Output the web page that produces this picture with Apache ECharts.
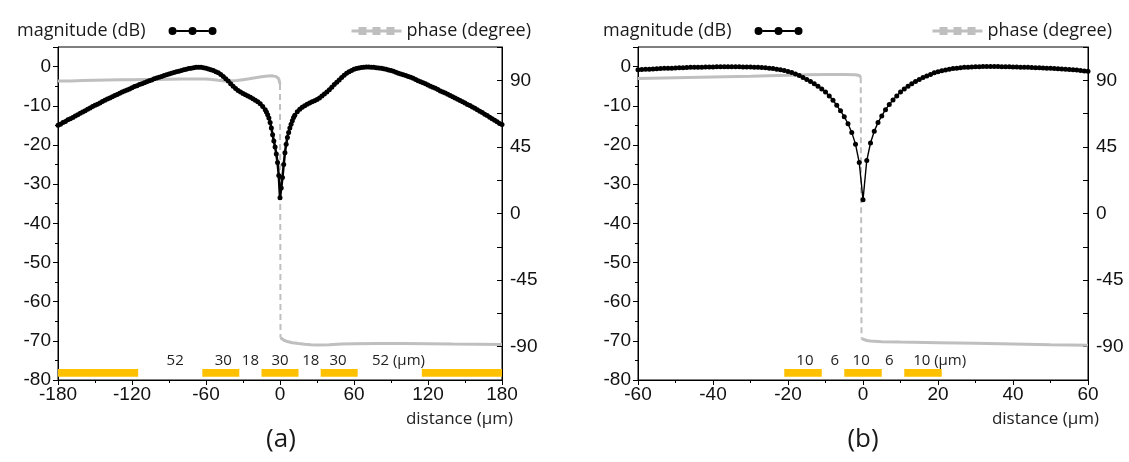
<!DOCTYPE html>
<html>
<head>
<meta charset="utf-8">
<script src="https://cdn.jsdelivr.net/npm/echarts@6.0.0/dist/echarts.min.js"></script>
<style>
html,body{margin:0;padding:0;background:#fff;}
#chart{width:1129px;height:462px;}
</style>
</head>
<body>
<div id="chart"></div>
<script>
// ---------- (a) 30 µm electrodes, 18 µm gaps ----------
const distanceA = [
  -180,-178,-176,-174,-172,-170,-168,-166,-164,-162,-160,-158,-156,-154,-152,-150,-148,-146,-144,-142,
  -140,-138,-136,-134,-132,-130,-128,-126,-124,-122,-120,-118,-116,-114,-112,-110,-108,-106,-104,-102,
  -100,-98,-96,-94,-92,-90,-88,-86,-84,-82,-80,-78,-76,-74,-72,-70,-68,-66,-64,-62,
  -60,-58,-56,-54,-52,-50,-48,-46,-44,-42,-40,-38,-36,-34,-32,-30,-28,-26,-24,-22,
  -20,-18,-16,-14,
  -12,-11,-10,-9,-8,-7,-6,-5,-4,-3,-2,-1,0,1,2,3,4,5,6,7,8,9,10,11,12,
  14,16,18,20,22,24,26,28,30,32,34,36,38,40,42,44,46,48,50,52,
  54,56,58,60,62,64,66,68,70,72,74,76,78,80,82,84,86,88,90,92,
  94,96,98,100,102,104,106,108,110,112,114,116,118,120,122,124,126,128,130,132,
  134,136,138,140,142,144,146,148,150,152,154,156,158,160,162,164,166,168,170,172,
  174,176,178,180
];
const magnitudeA = [
  -15.0,-14.7,-14.3,-14.0,-13.6,-13.3,-13.0,-12.6,-12.3,-11.9,-11.6,-11.3,-10.9,-10.6,-10.2,-9.9,-9.6,-9.3,-8.9,-8.6,
  -8.3,-8.0,-7.7,-7.4,-7.1,-6.8,-6.5,-6.2,-6.0,-5.7,-5.4,-5.1,-4.9,-4.6,-4.4,-4.1,-3.9,-3.6,-3.4,-3.1,
  -2.9,-2.7,-2.5,-2.3,-2.1,-1.9,-1.7,-1.5,-1.3,-1.2,-1.0,-0.8,-0.7,-0.5,-0.4,-0.3,-0.2,-0.2,-0.2,-0.3,
  -0.4,-0.6,-0.8,-1.0,-1.3,-1.6,-2.0,-2.5,-3.1,-3.7,-4.4,-5.0,-5.6,-6.1,-6.5,-6.9,-7.2,-7.5,-7.8,-8.2,
  -8.6,-9.0,-9.5,-10.2,
  -11.0,-11.6,-12.3,-13.1,-14.3,-15.7,-17.4,-19.0,-20.5,-22.3,-24.5,-27.8,-33.5,-31.0,-28.3,-25.0,-22.0,-19.8,-18.1,-16.8,-15.7,-14.7,-13.8,-13.0,-12.4,
  -11.5,-10.9,-10.4,-10.0,-9.6,-9.3,-9.0,-8.7,-8.4,-8.0,-7.5,-7.0,-6.5,-5.9,-5.3,-4.6,-4.0,-3.4,-2.8,-2.2,
  -1.7,-1.3,-1.0,-0.7,-0.5,-0.35,-0.25,-0.2,-0.1,-0.1,-0.15,-0.2,-0.3,-0.35,-0.45,-0.55,-0.7,-0.85,-1.0,-1.2,
  -1.45,-1.7,-1.9,-2.1,-2.3,-2.5,-2.75,-3.0,-3.3,-3.6,-3.85,-4.15,-4.4,-4.7,-5.0,-5.25,-5.55,-5.85,-6.2,-6.5,
  -6.75,-7.05,-7.35,-7.7,-8.0,-8.35,-8.65,-9.0,-9.3,-9.65,-9.95,-10.3,-10.65,-11.0,-11.4,-11.75,-12.15,-12.5,-12.9,-13.3,
  -13.7,-14.1,-14.5,-14.8
];
const phaseDistanceLeftA = [-180,-170,-160,-150,-140,-130,-120,-110,-100,-90,-80,-70,-60,-55,-50,-45,-40,-35,-30,-25,-20,-15,-10,-6,-3,-1,0];
const phaseLeftA = [89.5,89.6,89.8,90.0,90.2,90.3,90.4,90.5,90.6,90.7,90.8,90.9,90.9,90.6,90.0,89.6,89.5,89.8,90.4,91.0,91.7,92.4,92.9,93.0,92.5,91.0,87.5];
const phaseDistanceRightA = [0.4,1,3,6,10,15,20,25,30,40,50,60,80,100,120,140,160,180];
const phaseRightA = [-84.0,-84.6,-85.5,-86.5,-87.3,-87.9,-88.4,-88.7,-88.8,-88.6,-88.2,-88.0,-87.9,-87.9,-88.0,-88.2,-88.3,-88.5];
const electrodesA = [[-180,-115],[-63,-33],[-15,15],[33,63],[115,180]];
const gapLabelsA = ['52','30','18','30','18','30','52 (μm)'];
const gapLabelPosA = [-85,-46,-24,0,25,47,81];

// ---------- (b) 10 µm electrodes, 6 µm gaps ----------
const distanceB = [
  -60,-59,-58,-57,-56,-55,-54,-53,-52,-51,-50,-49,-48,-47,-46,-45,-44,-43,-42,-41,
  -40,-39,-38,-37,-36,-35,-34,-33,-32,-31,-30,-29,-28,-27,-26,-25,-24,-23,-22,-21,
  -20,-19,-18,-17,-16,-15,-14,-13,-12,-11,-10,-9,-8,-7,-6,-5,-4,-3,-2,-1,
  0,1,2,3,4,5,6,7,8,9,10,11,12,13,14,15,16,17,18,19,
  20,21,22,23,24,25,26,27,28,29,30,31,32,33,34,35,36,37,38,39,
  40,41,42,43,44,45,46,47,48,49,50,51,52,53,54,55,56,57,58,59,60
];
const magnitudeB = [
  -0.8,-0.75,-0.7,-0.65,-0.6,-0.55,-0.5,-0.45,-0.4,-0.4,-0.35,-0.3,-0.3,-0.25,-0.2,-0.2,-0.15,-0.15,-0.1,-0.1,
  -0.1,-0.05,-0.05,-0.05,-0.05,-0.05,-0.05,-0.05,-0.1,-0.1,-0.1,-0.15,-0.2,-0.25,-0.3,-0.4,-0.5,-0.65,-0.8,-1.0,
  -1.25,-1.5,-1.9,-2.3,-2.8,-3.3,-3.8,-4.4,-5.0,-5.7,-6.5,-7.5,-8.6,-9.9,-11.3,-12.8,-14.6,-16.8,-19.8,-24.5,
  -34.0,-24.0,-19.5,-16.5,-14.3,-12.6,-11.0,-9.7,-8.5,-7.5,-6.5,-5.7,-5.0,-4.4,-3.8,-3.3,-2.8,-2.4,-2.0,-1.6,
  -1.3,-1.05,-0.85,-0.65,-0.5,-0.4,-0.3,-0.2,-0.15,-0.1,-0.05,-0.05,0,0,0,0,0,-0.05,-0.05,-0.05,
  -0.1,-0.1,-0.15,-0.15,-0.2,-0.25,-0.3,-0.3,-0.35,-0.4,-0.45,-0.5,-0.55,-0.6,-0.7,-0.75,-0.8,-0.9,-1.0,-1.1,-1.2
];
const phaseDistanceLeftB = [-60,-50,-40,-30,-20,-15,-10,-5,-2,-1,-0.6];
const phaseLeftB = [91.3,91.8,92.3,92.8,93.4,93.8,94.0,94.0,93.8,93.3,92.0];
const phaseDistanceRightB = [-0.4,1,2,5,10,20,30,40,50,60];
const phaseRightB = [-84.5,-85.8,-86.2,-86.6,-86.9,-87.3,-87.7,-88.1,-88.6,-89.0];
const electrodesB = [[-21,-11],[-5,5],[11,21]];
const gapLabelsB = ['10','6','10','6','10 (μm)'];
const gapLabelPosB = [-15.5,-7.5,-0.5,7,15.5];

// ---------- styling ----------
const MAG = 'magnitude (dB)';
const PHASE = 'phase (degree)';
const BLACK = '#000';
const GREY = '#bfbfbf';
const GOLD = '#FFC000';
const NUM_FONT = 'Liberation Sans, Arial, sans-serif';
const TXT_FONT = 'Open Sans, Noto Sans, sans-serif';

// legend glyphs: dotted black line, grey line with square markers
const magIcon = 'path://M8,4H21V6H8Z M27,4H40V6H27Z M0,5A4,4,0,1,1,8,5A4,4,0,1,1,0,5Z M20,5A4,4,0,1,1,28,5A4,4,0,1,1,20,5Z M40,5A4,4,0,1,1,48,5A4,4,0,1,1,40,5Z';
const phaseIcon = 'path://M0,3.5H7V6.5H0Z M15,3.5H21V6.5H15Z M29,3.5H35V6.5H29Z M43,3.5H50V6.5H43Z M7,1H15V9H7Z M21,1H29V9H21Z M35,1H43V9H35Z';

const zip = (xs, ys) => xs.map((x, i) => [x, ys[i]]);

function xAxisFor(grid, min, max, interval) {
  return {
    gridIndex: grid, type: 'value', min, max, interval,
    name: 'distance (μm)', nameLocation: 'end', nameGap: 11,
    nameTextStyle: { align: 'right', verticalAlign: 'top', padding: [31, 0, 0, 0], fontSize: 17, fontFamily: TXT_FONT, color: '#222' },
    axisLine: { show: true, onZero: false, lineStyle: { color: BLACK, width: 1 } },
    axisTick: { show: true, length: 5, lineStyle: { color: BLACK } },
    minorTick: { show: true, splitNumber: 2, length: 3, lineStyle: { color: BLACK } },
    splitLine: { show: false },
    axisLabel: { fontSize: 19, fontFamily: NUM_FONT, color: '#111', margin: 5 }
  };
}
function magAxisFor(grid) {
  return {
    gridIndex: grid, type: 'value', position: 'left', min: -80, max: 5, interval: 10,
    axisLine: { show: true, onZero: false, lineStyle: { color: BLACK, width: 1 } },
    axisTick: { show: true, length: 5, lineStyle: { color: BLACK } },
    minorTick: { show: true, splitNumber: 2, length: 3, lineStyle: { color: BLACK } },
    splitLine: { show: false },
    axisLabel: { fontSize: 19, fontFamily: NUM_FONT, color: '#111', margin: 7, showMaxLabel: false }
  };
}
function phaseAxisFor(grid) {
  return {
    gridIndex: grid, type: 'value', position: 'right', min: -112.5, max: 112.5, interval: 22.5,
    axisLine: { show: true, onZero: false, lineStyle: { color: BLACK, width: 1 } },
    axisTick: { show: true, inside: true, length: 5, lineStyle: { color: BLACK } },
    splitLine: { show: false },
    axisLabel: { fontSize: 19, fontFamily: NUM_FONT, color: '#111', margin: 8,
      formatter: v => (Math.abs(v) <= 90 && v % 45 === 0) ? String(v) : '' }
  };
}

function electrodeSeries(xi, yi, segs) {
  return {
    type: 'custom', xAxisIndex: xi, yAxisIndex: yi, silent: true, z: 1,
    encode: { x: [0, 1] },
    data: segs,
    renderItem: (params, api) => {
      const a = api.coord([api.value(0), -77.2]);
      const b = api.coord([api.value(1), -79.2]);
      return { type: 'rect', shape: { x: a[0], y: a[1], width: b[0] - a[0], height: b[1] - a[1] }, style: { fill: GOLD } };
    }
  };
}
function gapLabelSeries(xi, yi, texts, pos) {
  return {
    type: 'custom', xAxisIndex: xi, yAxisIndex: yi, silent: true, z: 3,
    encode: { x: 0 },
    data: pos.map(p => [p]),
    renderItem: (params, api) => {
      const t = texts[params.dataIndex];
      const p = api.coord([api.value(0), -75]);
      const withUnit = t.indexOf('(') > 0;
      return { type: 'text', x: withUnit ? p[0] - 8 : p[0], y: p[1],
        style: { text: t, align: withUnit ? 'left' : 'center', verticalAlign: 'middle',
                 font: '15px "Open Sans"', fill: '#222' } };
    }
  };
}
function phaseSeries(xi, yi, dl, pl, dr, pr) {
  const base = { name: PHASE, type: 'line', xAxisIndex: xi, yAxisIndex: yi, showSymbol: false,
                 color: GREY, lineStyle: { color: GREY, width: 3 }, z: 2, silent: true };
  const jump = [[dl[dl.length - 1], pl[pl.length - 1]], [dr[0], pr[0]]];
  return [
    Object.assign({}, base, { data: zip(dl, pl) }),
    Object.assign({}, base, { data: jump, lineStyle: { color: GREY, width: 2, type: [6, 4] } }),
    Object.assign({}, base, { data: zip(dr, pr) })
  ];
}
function magnitudeSeries(xi, yi, d, m, lw, size) {
  return { name: MAG, type: 'line', xAxisIndex: xi, yAxisIndex: yi, data: zip(d, m),
           symbol: 'circle', symbolSize: size, showSymbol: true, color: BLACK,
           itemStyle: { color: BLACK }, lineStyle: { color: BLACK, width: lw }, z: 4, silent: true };
}
function legendsFor(magLeft, phaseRight) {
  const common = { top: 17, itemHeight: 10, selectedMode: false,
                   textStyle: { fontSize: 18, fontFamily: TXT_FONT, color: '#1a1a1a' } };
  return [
    Object.assign({}, common, { left: magLeft, align: 'right', itemWidth: 48,
      data: [{ name: MAG, icon: magIcon }],
      textStyle: Object.assign({}, common.textStyle, { padding: [0, 18, 0, 0] }) }),
    Object.assign({}, common, { right: phaseRight, align: 'left', itemWidth: 50,
      data: [{ name: PHASE, icon: phaseIcon }] })
  ];
}

const chart = echarts.init(document.getElementById('chart'), null, { renderer: 'canvas' });
chart.setOption({
  animation: false,
  backgroundColor: '#fff',
  grid: [
    { left: 58, right: 627, top: 47, bottom: 82, show: true, borderColor: BLACK, borderWidth: 1 },
    { left: 638, right: 41, top: 47, bottom: 82, show: true, borderColor: BLACK, borderWidth: 1 }
  ],
  legend: legendsFor(12, 593).concat(legendsFor(598, 12)),
  xAxis: [xAxisFor(0, -180, 180, 60), xAxisFor(1, -60, 60, 20)],
  yAxis: [magAxisFor(0), phaseAxisFor(0), magAxisFor(1), phaseAxisFor(1)],
  graphic: [
    { type: 'text', x: 281, y: 440, style: { text: '(a)', font: '26px "Open Sans"', fill: '#1a1a1a', textAlign: 'center', textVerticalAlign: 'middle' } },
    { type: 'text', x: 863, y: 440, style: { text: '(b)', font: '26px "Open Sans"', fill: '#1a1a1a', textAlign: 'center', textVerticalAlign: 'middle' } }
  ],
  series: [
    ...phaseSeries(0, 1, phaseDistanceLeftA, phaseLeftA, phaseDistanceRightA, phaseRightA),
    magnitudeSeries(0, 0, distanceA, magnitudeA, 2.5, 5),
    electrodeSeries(0, 0, electrodesA),
    gapLabelSeries(0, 0, gapLabelsA, gapLabelPosA),
    ...phaseSeries(1, 3, phaseDistanceLeftB, phaseLeftB, phaseDistanceRightB, phaseRightB),
    magnitudeSeries(1, 2, distanceB, magnitudeB, 1.4, 5),
    electrodeSeries(1, 2, electrodesB),
    gapLabelSeries(1, 2, gapLabelsB, gapLabelPosB)
  ]
});
</script>
</body>
</html>
